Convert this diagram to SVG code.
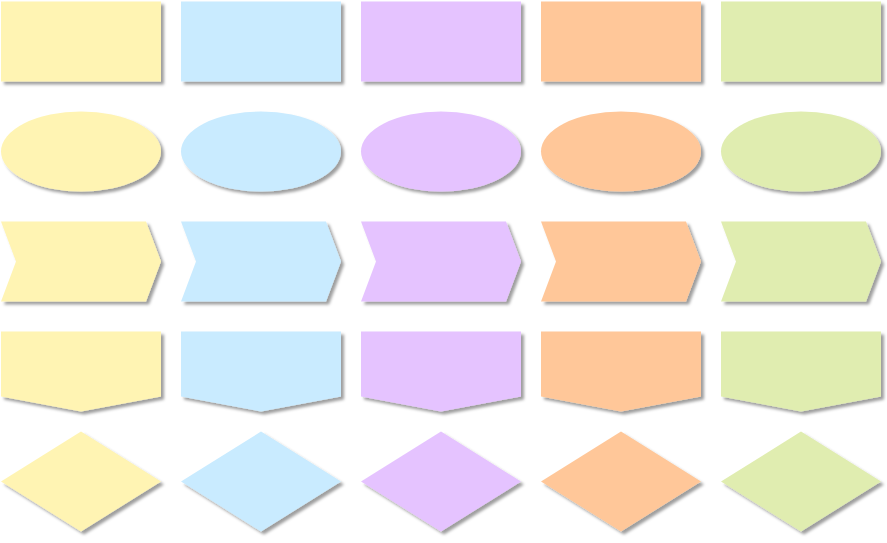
<svg xmlns="http://www.w3.org/2000/svg" width="887" height="543" viewBox="0 0 887 543">
  <defs>
    <filter id="sh" x="-10%" y="-10%" width="130%" height="130%">
      <feDropShadow dx="3" dy="3" stdDeviation="1.8" flood-color="#000" flood-opacity="0.38"/>
    </filter>
    <rect id="r" x="0" y="0" width="160" height="80"/>
    <ellipse id="e" cx="80" cy="40" rx="80" ry="40"/>
    <polygon id="s" points="0,0 145,0 160,40 145,80 0,80 15,40"/>
    <polygon id="o" points="0,0 160,0 160,65 80,80 0,65"/>
    <polygon id="d" points="80,0 160,50 80,100 0,50"/>
  </defs>
  <style>
    .n { filter: url(#sh); }
    .y { fill: #FFF4B3; }
    .b { fill: #C9EBFF; }
    .p { fill: #E5C3FF; }
    .o { fill: #FFC799; }
    .g { fill: #E0EDB0; }
  </style>
  <rect width="887" height="543" fill="#fff"/>
  <g id="connectors"/>
  <g id="rect-yellow" class="n y" transform="translate(1,1.5)"><use href="#r"/></g>
  <g id="rect-blue" class="n b" transform="translate(181,1.5)"><use href="#r"/></g>
  <g id="rect-purple" class="n p" transform="translate(361,1.5)"><use href="#r"/></g>
  <g id="rect-orange" class="n o" transform="translate(541,1.5)"><use href="#r"/></g>
  <g id="rect-green" class="n g" transform="translate(721,1.5)"><use href="#r"/></g>

  <g id="ellipse-yellow" class="n y" transform="translate(1,111.5)"><use href="#e"/></g>
  <g id="ellipse-blue" class="n b" transform="translate(181,111.5)"><use href="#e"/></g>
  <g id="ellipse-purple" class="n p" transform="translate(361,111.5)"><use href="#e"/></g>
  <g id="ellipse-orange" class="n o" transform="translate(541,111.5)"><use href="#e"/></g>
  <g id="ellipse-green" class="n g" transform="translate(721,111.5)"><use href="#e"/></g>

  <g id="step-yellow" class="n y" transform="translate(1,221.5)"><use href="#s"/></g>
  <g id="step-blue" class="n b" transform="translate(181,221.5)"><use href="#s"/></g>
  <g id="step-purple" class="n p" transform="translate(361,221.5)"><use href="#s"/></g>
  <g id="step-orange" class="n o" transform="translate(541,221.5)"><use href="#s"/></g>
  <g id="step-green" class="n g" transform="translate(721,221.5)"><use href="#s"/></g>

  <g id="offpage-yellow" class="n y" transform="translate(1,331.5)"><use href="#o"/></g>
  <g id="offpage-blue" class="n b" transform="translate(181,331.5)"><use href="#o"/></g>
  <g id="offpage-purple" class="n p" transform="translate(361,331.5)"><use href="#o"/></g>
  <g id="offpage-orange" class="n o" transform="translate(541,331.5)"><use href="#o"/></g>
  <g id="offpage-green" class="n g" transform="translate(721,331.5)"><use href="#o"/></g>

  <g id="diamond-yellow" class="n y" transform="translate(1,431.5)"><use href="#d"/></g>
  <g id="diamond-blue" class="n b" transform="translate(181,431.5)"><use href="#d"/></g>
  <g id="diamond-purple" class="n p" transform="translate(361,431.5)"><use href="#d"/></g>
  <g id="diamond-orange" class="n o" transform="translate(541,431.5)"><use href="#d"/></g>
  <g id="diamond-green" class="n g" transform="translate(721,431.5)"><use href="#d"/></g>
</svg>
